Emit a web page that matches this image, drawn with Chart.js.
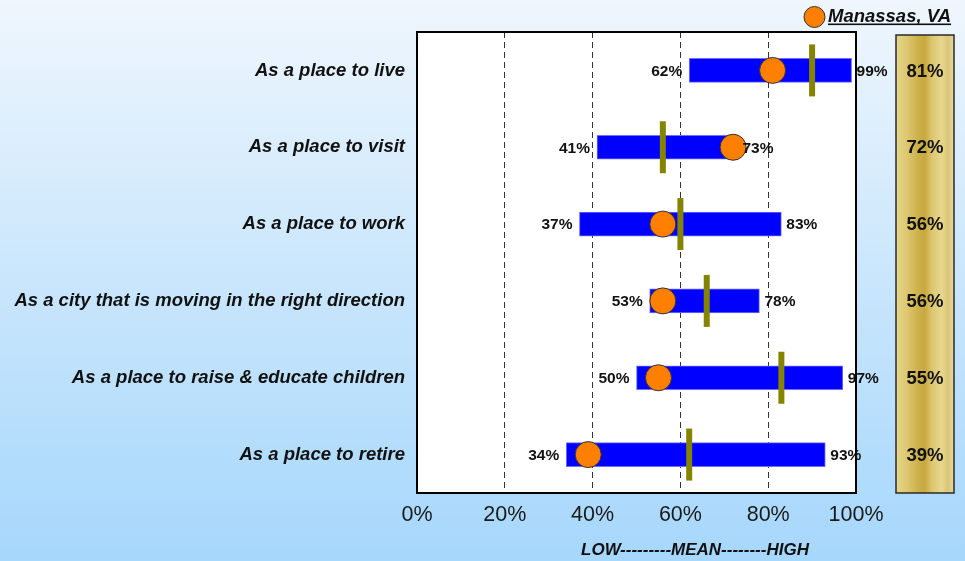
<!DOCTYPE html>
<html><head><meta charset="utf-8">
<script src="https://cdn.jsdelivr.net/npm/chart.js@4.4.1/dist/chart.umd.min.js"></script>
<style>html,body{margin:0;padding:0;background:#fff;overflow:hidden}</style>
</head><body>
<canvas id="c" width="965" height="561" style="display:block;width:965px;height:561px"></canvas>
<script>
const categories = [
  'As a place to live',
  'As a place to visit',
  'As a place to work',
  'As a city that is moving in the right direction',
  'As a place to raise & educate children',
  'As a place to retire'
];
const lowValues  = [62, 41, 37, 53, 50, 34];
const highValues = [99, 73, 83, 78, 97, 93];
const meanValues = [90, 56, 60, 66, 83, 62];
const cityValues = [81, 72, 56, 56, 55, 39];
const cityName = 'Manassas, VA';
const xTickValues = [0, 20, 40, 60, 80, 100];
const axisTitle = 'LOW---------MEAN--------HIGH';

const FONT = '"Liberation Sans", Arial, sans-serif';

const bgPlugin = {
  id: 'bg',
  beforeDraw(chart) {
    const {ctx, width, height, chartArea: a} = chart;
    ctx.save();
    const g = ctx.createLinearGradient(0, 0, 0, height);
    g.addColorStop(0, '#eff6fd');
    g.addColorStop(0.5, '#c9e6fc');
    g.addColorStop(1, '#a6d7fc');
    ctx.fillStyle = g;
    ctx.fillRect(0, 0, width, height);
    ctx.fillStyle = '#ffffff';
    ctx.fillRect(a.left, a.top, a.right - a.left, a.bottom - a.top);
    ctx.restore();
  }
};

const decoPlugin = {
  id: 'deco',
  afterDraw(chart) {
    const {ctx, chartArea: a, scales} = chart;
    const xs = scales.x, ys = scales.y;
    ctx.save();
    // plot frame
    ctx.strokeStyle = '#000';
    ctx.lineWidth = 2;
    ctx.strokeRect(a.left, a.top, a.right - a.left, a.bottom - a.top);

    // low / high value labels
    ctx.fillStyle = '#111';
    ctx.font = 'bold 15.5px ' + FONT;
    ctx.textBaseline = 'middle';
    categories.forEach((c, i) => {
      const y = ys.getPixelForValue(i);
      ctx.textAlign = 'right';
      ctx.fillText(lowValues[i] + '%', xs.getPixelForValue(lowValues[i]) - 7, y + 1);
      ctx.textAlign = 'left';
      ctx.fillText(highValues[i] + '%', xs.getPixelForValue(highValues[i]) + 5, y + 1);
    });

    // gold panel
    const pl = a.right + 40, pr = pl + 58, pt = a.top + 3, pb = a.bottom;
    const gg = ctx.createLinearGradient(pl, 0, pr, 0);
    gg.addColorStop(0, '#e6d68c');
    gg.addColorStop(0.2, '#ddc66e');
    gg.addColorStop(0.38, '#cdb04a');
    gg.addColorStop(0.5, '#c8a93f');
    gg.addColorStop(0.62, '#dcc670');
    gg.addColorStop(0.78, '#e7d78e');
    gg.addColorStop(0.9, '#dbc677');
    gg.addColorStop(1, '#e6daa2');
    ctx.fillStyle = gg;
    ctx.fillRect(pl, pt, pr - pl, pb - pt);
    ctx.strokeStyle = '#2a2a2a';
    ctx.lineWidth = 1.5;
    ctx.strokeRect(pl, pt, pr - pl, pb - pt);
    ctx.fillStyle = '#111';
    ctx.font = 'bold 18.5px ' + FONT;
    ctx.textAlign = 'center';
    ctx.textBaseline = 'middle';
    categories.forEach((c, i) => {
      ctx.fillText(cityValues[i] + '%', (pl + pr) / 2, ys.getPixelForValue(i) + 1);
    });

    // legend
    ctx.beginPath();
    ctx.arc(814.5, 17, 10.5, 0, Math.PI * 2);
    ctx.fillStyle = '#ff8000';
    ctx.fill();
    ctx.lineWidth = 1;
    ctx.strokeStyle = '#333';
    ctx.stroke();
    ctx.font = 'italic bold 18.5px ' + FONT;
    ctx.textAlign = 'left';
    ctx.textBaseline = 'alphabetic';
    ctx.fillStyle = '#111';
    ctx.fillText(cityName, 828, 22);
    const tw = ctx.measureText(cityName).width;
    ctx.fillRect(828, 23.5, tw, 1.6);

    // axis title
    ctx.font = 'italic bold 17px ' + FONT;
    ctx.textAlign = 'center';
    ctx.textBaseline = 'middle';
    ctx.fillText(axisTitle, 695, 550);
    ctx.restore();
  }
};

new Chart(document.getElementById('c'), {
  type: 'bar',
  data: {
    labels: categories,
    datasets: [
      {
        label: 'Range',
        data: lowValues.map((l, i) => [l, highValues[i]]),
        backgroundColor: '#0000ff',
        borderColor: '#6f6fff',
        borderWidth: 1,
        borderSkipped: false,
        barThickness: 24,
        order: 3
      },
      {
        type: 'line',
        label: 'Mean',
        data: meanValues,
        showLine: false,
        pointStyle: 'line',
        rotation: 90,
        pointRadius: 26,
        pointHoverRadius: 26,
        borderColor: '#848400',
        backgroundColor: '#848400',
        pointBorderWidth: 6,
        borderWidth: 6,
        order: 2
      },
      {
        type: 'line',
        label: cityName,
        data: cityValues,
        showLine: false,
        pointStyle: 'circle',
        pointRadius: 13,
        pointHoverRadius: 13,
        pointBackgroundColor: '#ff8000',
        pointBorderColor: '#333',
        pointBorderWidth: 1,
        order: 1
      }
    ]
  },
  options: {
    indexAxis: 'y',
    responsive: false,
    animation: false,
    devicePixelRatio: 1,
    layout: { padding: { top: 28, right: 109, left: 0, bottom: 0 } },
    plugins: { legend: { display: false }, tooltip: { enabled: false } },
    scales: {
      x: {
        type: 'linear',
        min: 0, max: 100,
        afterBuildTicks(s) { s.ticks = xTickValues.map(v => ({ value: v })); },
        afterFit(s) { s.height = 68; },
        ticks: {
          callback: v => v + '%',
          color: '#1a1a1a',
          font: { family: FONT, size: 21.5 },
          padding: 9,
          maxRotation: 0
        },
        grid: {
          drawTicks: false,
          color: ctx => (ctx.tick && (ctx.tick.value === 0 || ctx.tick.value === 100)) ? 'rgba(0,0,0,0)' : '#333',
          lineWidth: 1
        },
        border: { display: false, dash: [6, 4] }
      },
      y: {
        type: 'category',
        offset: true,
        afterFit(s) { s.width = 417; },
        ticks: {
          color: '#111',
          font: { family: FONT, size: 18.5, style: 'italic', weight: 'bold' },
          padding: 12
        },
        grid: { display: false, drawTicks: false },
        border: { display: false }
      }
    }
  },
  plugins: [bgPlugin, decoPlugin]
});
</script>
</body></html>
